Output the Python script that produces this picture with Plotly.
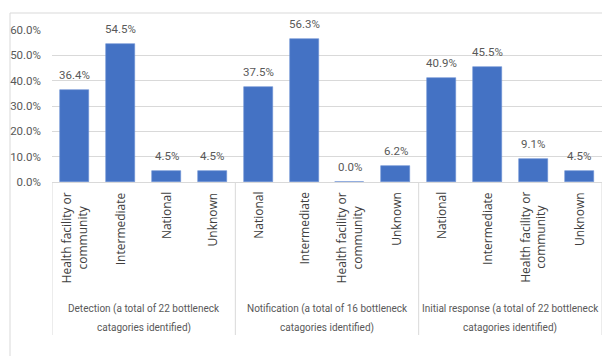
import plotly.graph_objects as go

# Bottleneck shares by level, grouped by response stage
groups = [
    "Detection (a total of 22 bottleneck<br>catagories identified)",
    "Notification (a total of 16 bottleneck<br>catagories identified)",
    "Initial response (a total of 22 bottleneck<br>catagories identified)",
]
levels = [
    ["Health facility or<br>community", "Intermediate", "National", "Unknown"],
    ["National", "Intermediate", "Health facility or<br>community", "Unknown"],
    ["National", "Intermediate", "Health facility or<br>community", "Unknown"],
]
shares = [
    [36.4, 54.5, 4.5, 4.5],
    [37.5, 56.3, 0.0, 6.2],
    [40.9, 45.5, 9.1, 4.5],
]
y_ticks = [0, 10, 20, 30, 40, 50, 60]

labels = [c for g in levels for c in g]
values = [v for g in shares for v in g]
xpos = list(range(len(values)))

NARROW = "Liberation Sans Narrow, Roboto, sans-serif"
GREY = "#595959"
LINE = "#d9d9d9"

fig = go.Figure(
    go.Bar(
        x=xpos,
        y=values,
        width=0.63,
        marker=dict(color="#4472c4", line=dict(color="#6a8fd4", width=0.6)),
        hoverinfo="skip",
    )
)

# plot area spans 152 px for 0..60 %
def py(px_from_axis):
    return -px_from_axis / 152.0

annotations = []
# value labels above bars
for i, v in zip(xpos, values):
    annotations.append(dict(
        x=i, xref="x", y=v, yref="y", text=f"{v:.1f}%", showarrow=False,
        xanchor="center", yanchor="bottom", yshift=6,
        font=dict(family=NARROW, size=11.5, color=GREY),
    ))
# rotated level labels
for i, lab in enumerate(labels):
    annotations.append(dict(
        x=i, xref="x", y=py(8), yref="paper",
        text=lab, textangle=-90, showarrow=False,
        xanchor="center", yanchor="top", align="center",
        font=dict(family="Open Sans, sans-serif", size=12, color="#404040"),
    ))
# stage labels, two lines each
n = len(levels[0])
for gi, g in enumerate(groups):
    for li, line in enumerate(g.split("<br>")):
        annotations.append(dict(
            x=gi * n + (n - 1) / 2, xref="x", y=py(127 + 19 * li), yref="paper",
            text=line, showarrow=False, xanchor="center", yanchor="middle",
            font=dict(family=NARROW, size=10, color=GREY),
        ))

shapes = []
for gi in range(len(groups) + 1):
    xd = gi * n - 0.5
    shapes.append(dict(type="line", xref="x", yref="paper", x0=xd, x1=xd,
                       y0=0, y1=py(153), line=dict(color=LINE, width=1)))
# outer chart border
shapes.append(dict(type="rect", xref="paper", yref="paper",
                   x0=-42 / 550, x1=1.05, y0=py(200), y1=1 + 17 / 152.0,
                   line=dict(color=LINE, width=1), fillcolor="rgba(0,0,0,0)", layer="below"))

fig.update_layout(
    width=602, height=356,
    margin=dict(l=52, r=0, t=30, b=174),
    paper_bgcolor="white", plot_bgcolor="white",
    showlegend=False,
    bargap=0,
    annotations=annotations,
    shapes=shapes,
    xaxis=dict(range=[-0.5, len(values) - 0.5], showticklabels=False, showgrid=False,
               zeroline=False, showline=True, linecolor=LINE, linewidth=1, fixedrange=True),
    yaxis=dict(range=[0, 60], tickvals=y_ticks, ticktext=[f"{t:.1f}%" for t in y_ticks],
               showgrid=True, gridcolor=LINE, gridwidth=1, zeroline=False,
               tickfont=dict(family=NARROW, size=11.5, color=GREY),
               ticklabelstandoff=10, fixedrange=True),
)

fig.write_html("out.html")
